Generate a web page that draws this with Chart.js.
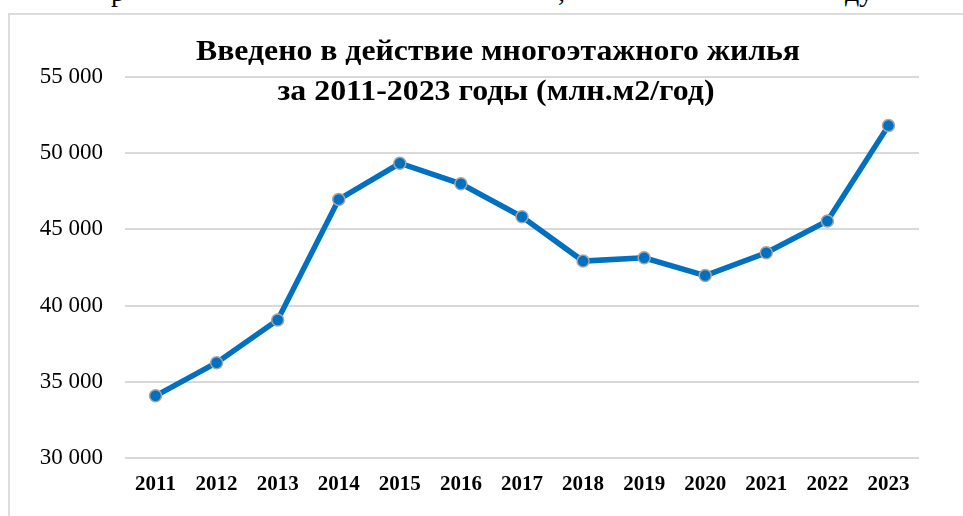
<!DOCTYPE html>
<html lang="ru">
<head>
<meta charset="utf-8">
<script src="https://cdn.jsdelivr.net/npm/chart.js@4.4.1/dist/chart.umd.min.js"></script>
<style>
    html, body { margin: 0; padding: 0; background: #fff; overflow: hidden; }
    #page { position: relative; width: 963px; height: 516px; overflow: hidden; }
    #frame { position: absolute; left: 8px; top: 13px; width: 1000px; height: 600px; border: 2px solid #dcdcdc; box-sizing: border-box; }
    .cut { position: absolute; top: -22px; font: 28px "Liberation Serif", "Times New Roman", serif; color: #000; line-height: 28px; }
    #myChart { position: absolute; left: 0; top: 0; }
</style>
</head>
<body>
<div id="page">
    <span class="cut" style="left:111px">р</span>
    <span class="cut" style="left:558px">,</span>
    <span class="cut" style="left:845px">ду</span>
    <div id="frame"></div>
    <canvas id="myChart" width="963" height="516"></canvas>
</div>
<script>
//Данные - ввод многоэтажного жилья
const years = ['2011', '2012', '2013', '2014', '2015', '2016', '2017', '2018', '2019', '2020', '2021', '2022', '2023'];
const housing = [34080, 36250, 39060, 46970, 49340, 47990, 45830, 42920, 43140, 41970, 43470, 45550, 51810];
const titleLines = ['Введено в действие многоэтажного жилья', 'за 2011-2023 годы (млн.м2/год)'];

//Заголовок поверх области графика (шрифт в оригинале растянут по ширине)
const titleOverlay = {
    id: 'titleOverlay',
    afterDraw(chart) {
        const ctx = chart.ctx;
        const rows = [
            { text: titleLines[0], x: 498, y: 60, w: 604 },
            { text: titleLines[1], x: 496, y: 100, w: 437 }
        ];
        ctx.save();
        ctx.fillStyle = '#000';
        ctx.font = 'bold 28.5px "Liberation Serif"';
        ctx.textAlign = 'center';
        ctx.textBaseline = 'alphabetic';
        rows.forEach(r => {
            const sx = r.w / ctx.measureText(r.text).width;
            ctx.save();
            ctx.translate(r.x, r.y);
            ctx.scale(sx, 1);
            ctx.fillText(r.text, 0, 0);
            ctx.restore();
        });
        ctx.restore();
    }
};

new Chart(document.getElementById('myChart'), {
    type: 'line',
    data: {
        labels: years,
        datasets: [{
            data: housing,
            borderColor: '#0070C0',
            borderWidth: 5.5,
            tension: 0,
            pointRadius: 6,
            pointBackgroundColor: '#0070C0',
            pointBorderColor: '#A5A5A5',
            pointBorderWidth: 1.5
        }]
    },
    options: {
        responsive: false,
        animation: false,
        layout: { padding: { top: 77, right: 44, left: 0, bottom: 0 } },
        plugins: {
            legend: { display: false },
            title: { display: false },
            tooltip: { enabled: false }
        },
        scales: {
            x: {
                offset: true,
                grid: { display: false, drawTicks: false },
                border: { display: false },
                ticks: {
                    color: '#000',
                    padding: 14,
                    maxRotation: 0,
                    font: { family: 'Liberation Serif', size: 21, weight: 'bold' }
                },
                afterFit(scale) { scale.height = 58; }
            },
            y: {
                min: 30000,
                max: 55000,
                grid: { color: '#d9d9d9', lineWidth: 2, drawTicks: false },
                border: { display: false },
                ticks: {
                    stepSize: 5000,
                    color: '#000',
                    padding: 22,
                    font: { family: 'Liberation Serif', size: 23 },
                    callback: v => String(v).replace(/\B(?=(\d{3})+(?!\d))/g, ' ')
                },
                afterFit(scale) { scale.width = 125; }
            }
        }
    },
    plugins: [titleOverlay]
});
</script>
</body>
</html>
